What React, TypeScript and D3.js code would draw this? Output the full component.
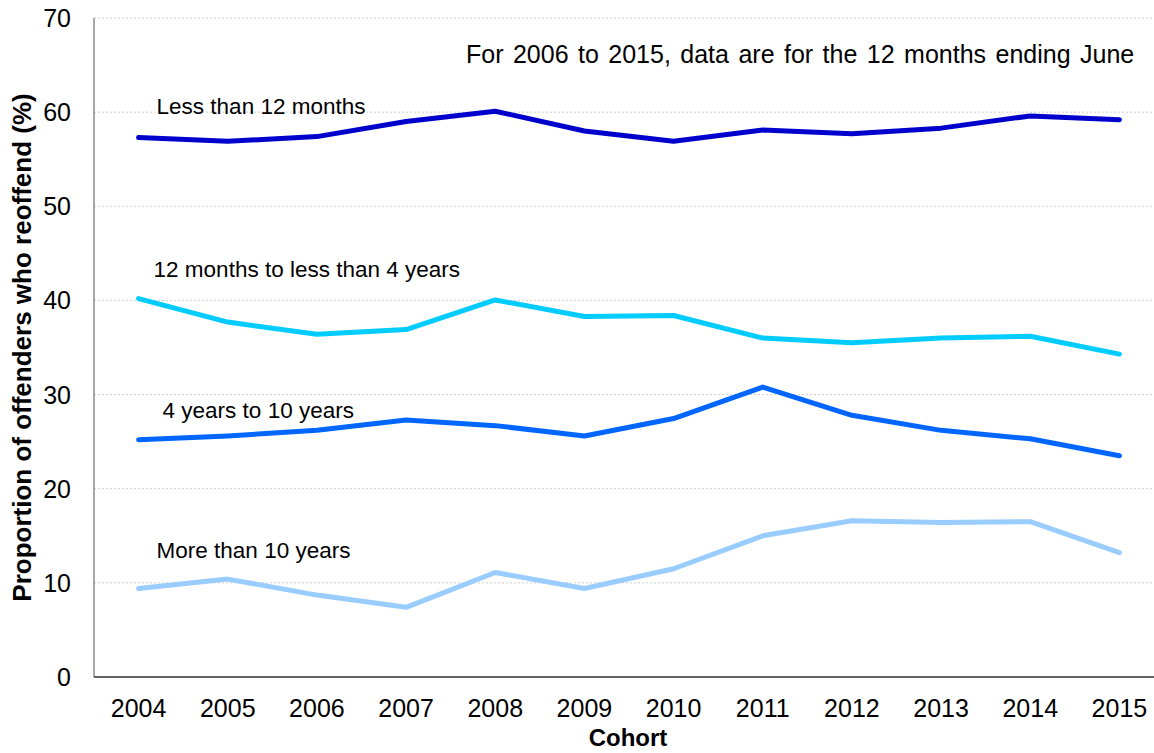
import * as d3 from "d3";

const years = ["2004", "2005", "2006", "2007", "2008", "2009", "2010", "2011", "2012", "2013", "2014", "2015"];

const lessThan12Months = [57.3, 56.9, 57.4, 59.0, 60.1, 58.0, 56.9, 58.1, 57.7, 58.3, 59.6, 59.2];
const months12To4Years = [40.2, 37.7, 36.4, 36.9, 40.05, 38.3, 38.4, 36.0, 35.5, 36.0, 36.2, 34.3];
const years4To10 = [25.2, 25.6, 26.2, 27.3, 26.7, 25.6, 27.45, 30.8, 27.8, 26.2, 25.3, 23.5];
const moreThan10Years = [9.4, 10.4, 8.7, 7.4, 11.1, 9.4, 11.5, 15.0, 16.6, 16.4, 16.5, 13.2];

const seriesNames = ["Less than 12 months", "12 months to less than 4 years", "4 years to 10 years", "More than 10 years"];
const seriesValues = [lessThan12Months, months12To4Years, years4To10, moreThan10Years];
// where each label sits, in data units (baseline)
const labelValues = [59.8, 42.5, 27.55, 12.65];

const yTicks = [0, 10, 20, 30, 40, 50, 60, 70];

const colors = ["#0000cc", "#00ccff", "#0066ff", "#99ccff"];
const labelOffsets = [18, 15, 24, 18];

const WIDTH = 1154;
const HEIGHT = 753;
const LEFT = 94;
const RIGHT = 1164;
const TOP = 18;
const BOTTOM = 677;

const FONT = "Liberation Sans, Arial, sans-serif";

export default function App() {
  const x = d3.scalePoint<string>().domain(years).range([LEFT, RIGHT]).padding(0.5);
  const y = d3.scaleLinear().domain([0, 70]).range([BOTTOM, TOP]);

  const line = d3
    .line<number>()
    .x((_, i) => x(years[i])!)
    .y((d) => y(d));

  return (
    <svg
      width={WIDTH}
      height={HEIGHT}
      style={{ position: "fixed", left: 0, top: 0, background: "#fff" }}
      fontFamily={FONT}
    >
      {/* grid */}
      {yTicks
        .filter((t) => t > 0)
        .map((t) => (
          <line
            key={t}
            x1={LEFT}
            x2={RIGHT}
            y1={y(t)}
            y2={y(t)}
            stroke="#cfcfcf"
            strokeWidth={1}
            strokeDasharray="2,2"
          />
        ))}

      {/* axes */}
      <line x1={LEFT} x2={LEFT} y1={TOP} y2={BOTTOM} stroke="#8a8a8a" strokeWidth={1.5} />
      <line x1={LEFT} x2={RIGHT} y1={BOTTOM} y2={BOTTOM} stroke="#333" strokeWidth={1.5} />

      {yTicks.map((t) => (
        <text key={t} x={71} y={y(t)} dy="0.36em" textAnchor="end" fontSize={25} fill="#000">
          {t}
        </text>
      ))}

      {years.map((yr) => (
        <text key={yr} x={x(yr)} y={717} textAnchor="middle" fontSize={25} fill="#000">
          {yr}
        </text>
      ))}

      {/* series */}
      {seriesValues.map((vals, i) => (
        <path
          key={i}
          d={line(vals)!}
          fill="none"
          stroke={colors[i]}
          strokeWidth={5}
          strokeLinejoin="round"
          strokeLinecap="round"
        />
      ))}

      {seriesNames.map((name, i) => (
        <text key={name} x={x(years[0])! + labelOffsets[i]} y={y(labelValues[i])} fontSize={22.5} fill="#000">
          {name}
        </text>
      ))}

      <text x={466} y={63} fontSize={25} fill="#000" style={{ wordSpacing: "2.5px" }}>
        For 2006 to 2015, data are for the 12 months ending June
      </text>

      <text
        transform={`translate(${31}, ${(TOP + BOTTOM) / 2}) rotate(-90)`}
        textAnchor="middle"
        fontSize={26}
        fontWeight="bold"
        fill="#000"
      >
        Proportion of offenders who reoffend (%)
      </text>

      <text x={628} y={746} textAnchor="middle" fontSize={24} fontWeight="bold" fill="#000">
        Cohort
      </text>
    </svg>
  );
}
